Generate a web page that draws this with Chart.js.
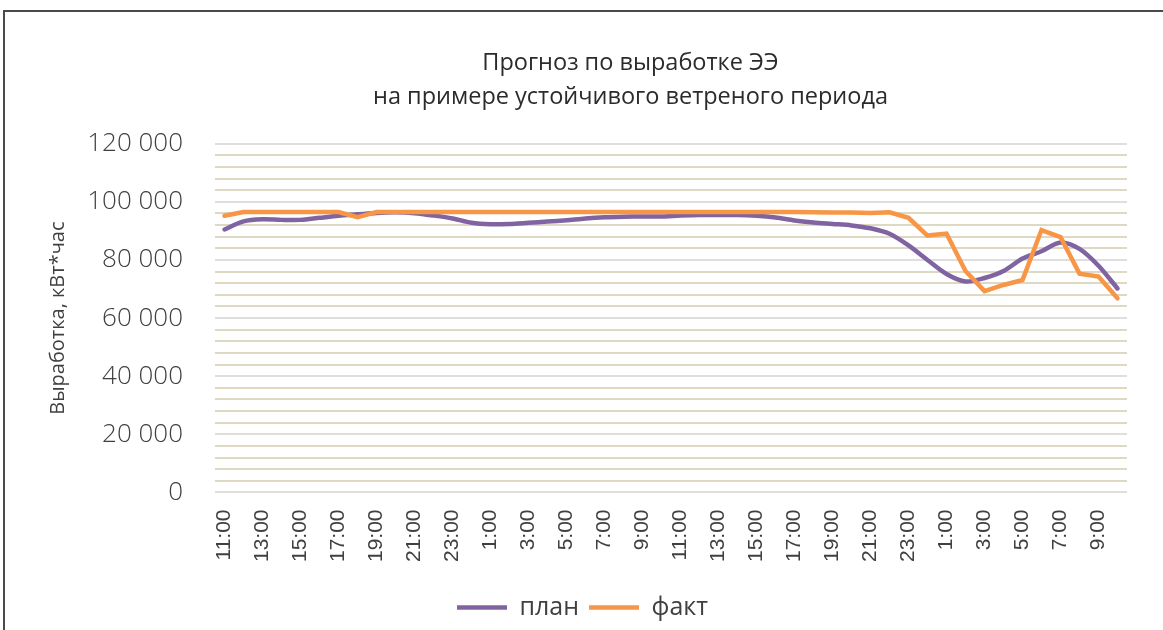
<!DOCTYPE html>
<html>
<head>
<meta charset="utf-8">
<script src="https://cdn.jsdelivr.net/npm/chart.js@4.4.1/dist/chart.umd.min.js"></script>
<style>
  html, body { margin: 0; padding: 0; background: #fff; overflow: hidden; }
  .frame { position: absolute; left: 3px; top: 10px; width: 1300px; height: 700px;
           border-top: 2px solid #4a4a4a; border-left: 2px solid #4a4a4a; }
  .wrap { position: absolute; left: 0; top: 0; width: 1163px; height: 630px; }
</style>
</head>
<body>
<div class="frame"></div>
<div class="wrap"><canvas id="energy" width="1163" height="630"></canvas></div>
<script>
// hours, 11:00 day 1 .. 10:00 day 3
var hours = ["11:00","12:00","13:00","14:00","15:00","16:00","17:00","18:00","19:00","20:00","21:00","22:00","23:00",
  "0:00","1:00","2:00","3:00","4:00","5:00","6:00","7:00","8:00","9:00","10:00","11:00","12:00","13:00","14:00",
  "15:00","16:00","17:00","18:00","19:00","20:00","21:00","22:00","23:00",
  "0:00","1:00","2:00","3:00","4:00","5:00","6:00","7:00","8:00","9:00","10:00"];

var plan = [90500, 93300, 94000, 93800, 93800, 94500, 95200, 95700, 96200, 96400, 96100, 95300, 94300,
  92800, 92300, 92400, 92800, 93200, 93700, 94300, 94700, 94900, 95000, 95000, 95300, 95500, 95500, 95500,
  95200, 94600, 93600, 92900, 92400, 91900, 90900, 89000, 85000,
  80000, 75200, 72600, 73800, 76200, 80500, 83000, 86000, 83800, 78000, 70200];

var fact = [95200, 96500, 96500, 96500, 96500, 96500, 96500, 94700, 96500, 96500, 96500, 96500, 96500,
  96500, 96500, 96500, 96500, 96500, 96500, 96500, 96500, 96500, 96500, 96500, 96500, 96500, 96500, 96500,
  96500, 96500, 96500, 96400, 96300, 96300, 96200, 96400, 94500,
  88400, 89100, 76200, 69300, 71400, 73100, 90300, 87900, 75300, 74300, 66800];

var seriesNames = ["план", "факт"];
var titleLines = ["Прогноз по выработке ЭЭ", "на примере устойчивого ветреного периода"];
var yTitle = "Выработка, кВт*час";

function fmt(v) {
  return String(v).replace(/\B(?=(\d{3})+(?!\d))/g, " ");
}

// title and legend are not centred on the same line in the original, nudge them
var boxShift = {
  id: 'boxShift',
  afterLayout: function(chart) {
    var t = chart.titleBlock;
    if (t) {
      t.left = 98;
      t.right = 1163;
      t.width = t.right - t.left;
    }
    var l = chart.legend;
    if (l) {
      l.right = l.right + 38;
    }
  }
};

var ctx = document.getElementById("energy");
var chart = new Chart(ctx, {
  type: 'line',
  data: {
    labels: hours,
    datasets: [{
      label: seriesNames[0],
      data: plan,
      borderColor: '#8064a2',
      backgroundColor: '#8064a2',
      borderWidth: 4.5,
      borderCapStyle: 'round',
      pointRadius: 0,
      tension: 0.3,
      order: 1
    }, {
      label: seriesNames[1],
      data: fact,
      borderColor: '#f79646',
      backgroundColor: '#f79646',
      borderWidth: 4.5,
      borderCapStyle: 'round',
      pointRadius: 0,
      tension: 0,
      order: 0
    }]
  },
  options: {
    responsive: false,
    animation: false,
    devicePixelRatio: 1,
    layout: { padding: { top: 0, left: 0, right: 36, bottom: 0 } },
    plugins: {
      tooltip: { enabled: false },
      title: {
        display: true,
        text: titleLines,
        color: '#2b2b2b',
        font: { family: 'Open Sans', size: 23.5, weight: 'normal', lineHeight: 1.42 },
        padding: { top: 47, bottom: 30 }
      },
      legend: {
        position: 'bottom',
        labels: {
          usePointStyle: true,
          pointStyle: 'line',
          pointStyleWidth: 50,
          padding: 10,
          color: '#404040',
          font: { family: 'Open Sans', size: 25 },
          sort: function(a, b) { return a.datasetIndex - b.datasetIndex; }
        }
      }
    },
    scales: {
      x: {
        offset: true,
        afterFit: function(scale) { scale.height = scale.height + 6; },
        grid: { display: false, drawTicks: false },
        border: { display: false },
        ticks: {
          autoSkip: false,
          minRotation: 90,
          maxRotation: 90,
          padding: 17,
          color: '#404040',
          font: { family: 'Liberation Sans', size: 21 },
          callback: function(v, i) { return i % 2 === 0 ? hours[i] : ''; }
        }
      },
      y: {
        min: 0,
        max: 120000,
        afterFit: function(scale) { scale.width = 215; },
        border: { display: false },
        grid: {
          drawTicks: false,
          lineWidth: 2,
          color: function(c) {
            return c.tick && c.tick.value % 20000 === 0 ? '#dedede' : '#ddd9c3';
          }
        },
        ticks: {
          stepSize: 4000,
          autoSkip: false,
          padding: 32,
          color: '#404040',
          font: { family: 'Open Sans', size: 26, weight: 300 },
          callback: function(v) { return v % 20000 === 0 ? fmt(v) : ''; }
        },
        title: {
          display: true,
          text: yTitle,
          color: '#404040',
          font: { family: 'Open Sans', size: 20 },
          padding: { top: 46, bottom: 0 }
        }
      }
    }
  },
  plugins: [boxShift]
});
</script>
</body>
</html>
